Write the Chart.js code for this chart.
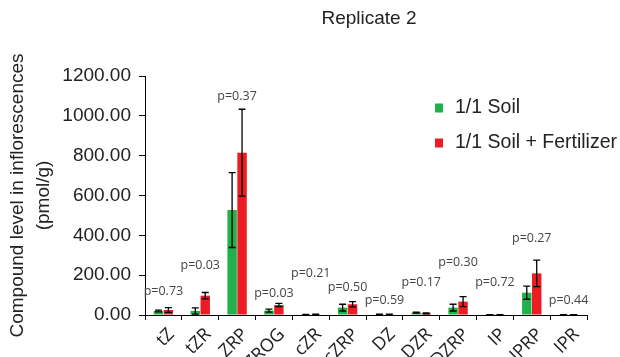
<!DOCTYPE html>
<html>
<head>
<meta charset="utf-8">
<script src="https://cdn.jsdelivr.net/npm/chart.js@4/dist/chart.umd.min.js"></script>
<style>
  html, body { margin: 0; padding: 0; background: #fff; }
  #wrap { width: 620px; height: 357px; }
</style>
</head>
<body>
<div id="wrap"><canvas id="myChart" width="620" height="357"></canvas></div>
<script>
// compounds measured
var compounds = ["tZ", "tZR", "ZRP", "ZROG", "cZR", "cZRP", "DZ", "DZR", "DZRP", "IP", "IPRP", "IPR"];

// means and error (pmol/g)
var soil     = [20, 20, 527, 22, 2, 37, 3, 12, 37, 1, 112, 1];
var soilErr  = [4, 16, 188, 8, 1, 17, 1, 2, 17, 0.5, 33, 0.5];
var fert     = [25, 97, 815, 50, 3, 54, 3, 8, 67, 1, 209, 1];
var fertErr  = [12, 16, 218, 8, 1, 13, 1, 2, 25, 0.5, 67, 0.5];

// t-test p values
var pValues = ["0.73", "0.03", "0.37", "0.03", "0.21", "0.50", "0.59", "0.17", "0.30", "0.72", "0.27", "0.44"];

var yTicks = [0, 200, 400, 600, 800, 1000, 1200];

// where each p label sits, in axis units
var pLabelAt = [120, 251, 1095, 110, 211, 136, 75, 161, 266, 161, 382, 75];

var GREEN = "#21b14b";
var RED = "#ec1c24";

var errorBars = {
  id: "errorBars",
  afterDatasetsDraw: function(chart) {
    var ctx = chart.ctx;
    var y = chart.scales.y;
    ctx.save();
    ctx.strokeStyle = "#000";
    ctx.lineWidth = 1.3;
    chart.data.datasets.forEach(function(ds, i) {
      var meta = chart.getDatasetMeta(i);
      meta.data.forEach(function(bar, j) {
        var v = ds.data[j], e = ds.errors[j];
        var top = y.getPixelForValue(v + e);
        var bot = y.getPixelForValue(Math.max(0, v - e));
        ctx.beginPath();
        ctx.moveTo(bar.x, top); ctx.lineTo(bar.x, bot);
        ctx.moveTo(bar.x - 3.5, top); ctx.lineTo(bar.x + 3.5, top);
        ctx.moveTo(bar.x - 3.5, bot); ctx.lineTo(bar.x + 3.5, bot);
        ctx.stroke();
      });
    });
    ctx.restore();
  }
};

var extras = {
  id: "extras",
  afterDraw: function(chart) {
    var ctx = chart.ctx;
    var area = chart.chartArea;
    var x = chart.scales.x, y = chart.scales.y;
    ctx.save();
    // title
    ctx.fillStyle = "#222";
    ctx.font = "19px 'Liberation Sans', Arial, sans-serif";
    ctx.textAlign = "center";
    ctx.textBaseline = "middle";
    ctx.fillText("Replicate 2", (area.left + area.right) / 2 + 3, 19);

    // p values
    ctx.fillStyle = "#444";
    ctx.font = "12.5px 'Open Sans', sans-serif";
    pValues.forEach(function(p, i) {
      ctx.fillText("p=" + p, x.getPixelForValue(i), y.getPixelForValue(pLabelAt[i]));
    });

    // legend
    ctx.font = "19.5px 'Liberation Sans', Arial, sans-serif";
    ctx.textAlign = "left";
    chart.data.datasets.forEach(function(ds, i) {
      var ly = 108 + i * 35;
      ctx.fillStyle = ds.backgroundColor;
      ctx.fillRect(435, ly - 4.5, 8, 9);
      ctx.fillStyle = "#222";
      ctx.fillText(ds.label, 455, ly);
    });
    ctx.restore();
  }
};

new Chart("myChart", {
  type: "bar",
  data: {
    labels: compounds,
    datasets: [
      { label: "1/1 Soil", data: soil, errors: soilErr, backgroundColor: GREEN },
      { label: "1/1 Soil + Fertilizer", data: fert, errors: fertErr, backgroundColor: RED }
    ]
  },
  options: {
    responsive: false,
    animation: false,
    layout: { padding: { top: 76, right: 33, left: 0, bottom: 0 } },
    datasets: { bar: { categoryPercentage: 0.54, barPercentage: 0.95 } },
    plugins: {
      legend: { display: false },
      tooltip: { enabled: false }
    },
    scales: {
      x: {
        grid: { offset: true, drawOnChartArea: false, tickLength: 5, color: "#000" },
        border: { color: "#000" },
        ticks: {
          maxRotation: 45, minRotation: 45, autoSkip: false, padding: 4, labelOffset: 8,
          color: "#222",
          font: { family: "'Open Sans', sans-serif", size: 18 }
        },
        afterFit: function(scale) { scale.height = 42; }
      },
      y: {
        min: 0, max: 1200,
        afterBuildTicks: function(scale) {
          scale.ticks = yTicks.map(function(v) { return { value: v }; });
        },
        grid: { drawOnChartArea: false, tickLength: 6, color: "#000" },
        border: { color: "#000" },
        ticks: {
          padding: 8,
          color: "#222",
          font: { family: "'Liberation Sans', Arial, sans-serif", size: 19 },
          callback: function(v) { return v.toFixed(2); }
        },
        title: {
          display: true,
          text: ["Compound level in inflorescences", "(pmol/g)"],
          color: "#222",
          font: { family: "'Liberation Sans', Arial, sans-serif", size: 19, lineHeight: 1.4 },
          padding: { top: 4, bottom: 0 }
        },
        afterFit: function(scale) { scale.width = 145; }
      }
    }
  },
  plugins: [errorBars, extras]
});
</script>
</body>
</html>
